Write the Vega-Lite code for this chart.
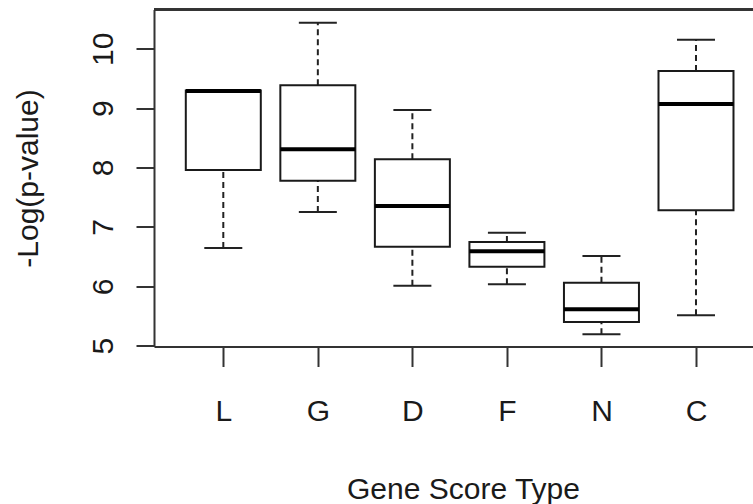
{
  "$schema": "https://vega.github.io/schema/vega-lite/v6.json",
  "autosize": {"type": "none"},
  "padding": {"left": 154, "top": 9.5, "right": 0, "bottom": 157.5},
  "width": 599,
  "height": 337,
  "background": "white",
  "config": {
    "view": {"stroke": null},
    "font": "Liberation Sans",
    "axis": {
      "grid": false,
      "domainColor": "#333333",
      "domainWidth": 2,
      "tickColor": "#333333",
      "tickWidth": 2,
      "labelFont": "Liberation Sans",
      "titleFont": "Liberation Sans",
      "labelFontSize": 30,
      "titleFontSize": 30,
      "labelColor": "#1a1a1a",
      "titleColor": "#1a1a1a",
      "titleFontWeight": "normal"
    }
  },
  "data": {
    "values": [
      {"type": "L", "idx": 1, "lower": 6.645, "q1": 7.958, "median": 9.29, "q3": 9.295, "upper": 9.295},
      {"type": "G", "idx": 2, "lower": 7.251, "q1": 7.778, "median": 8.306, "q3": 9.384, "upper": 10.438},
      {"type": "D", "idx": 3, "lower": 6.01, "q1": 6.667, "median": 7.352, "q3": 8.138, "upper": 8.968},
      {"type": "F", "idx": 4, "lower": 6.034, "q1": 6.33, "median": 6.589, "q3": 6.746, "upper": 6.902},
      {"type": "N", "idx": 5, "lower": 5.192, "q1": 5.399, "median": 5.613, "q3": 6.061, "upper": 6.51},
      {"type": "C", "idx": 6, "lower": 5.512, "q1": 7.279, "median": 9.069, "q3": 9.625, "upper": 10.152}
    ]
  },
  "layer": [
    {
      "mark": {"type": "rule", "color": "#222222", "strokeWidth": 2, "strokeDash": [6, 4]},
      "encoding": {
        "x": {
          "field": "idx",
          "type": "quantitative",
          "scale": {"domain": [0.267, 6.603], "nice": false, "zero": false, "padding": 0},
          "axis": {
            "values": [1, 2, 3, 4, 5, 6],
            "labelExpr": "['','L','G','D','F','N','C'][datum.value]",
            "tickSize": 20,
            "labelPadding": 54,
            "labelBaseline": "alphabetic",
            "labelAlign": "center",
            "labelFlush": false,
            "title": "Gene Score Type",
            "titleX": 309,
            "titleY": 152,
            "titleAlign": "center",
            "titleBaseline": "alphabetic",
            "titleAnchor": null
          }
        },
        "y": {
          "field": "lower",
          "type": "quantitative",
          "scale": {"domain": [4.987, 10.66], "nice": false, "zero": false, "padding": 0},
          "axis": {
            "values": [5, 6, 7, 8, 9, 10],
            "format": "d",
            "tickSize": 18,
            "labelAngle": 270,
            "labelAlign": "center",
            "labelBaseline": "alphabetic",
            "labelPadding": 24,
            "title": "-Log(p-value)",
            "titleAngle": 270,
            "titleX": -117,
            "titleY": 168.5,
            "titleAlign": "center",
            "titleBaseline": "alphabetic",
            "titleAnchor": null
          }
        },
        "y2": {"field": "q1"}
      }
    },
    {
      "mark": {"type": "rule", "color": "#222222", "strokeWidth": 2, "strokeDash": [6, 4]},
      "encoding": {
        "x": {"field": "idx", "type": "quantitative"},
        "y": {"field": "q3", "type": "quantitative"},
        "y2": {"field": "upper"}
      }
    },
    {
      "mark": {"type": "tick", "orient": "horizontal", "size": 38, "thickness": 2, "color": "#222222", "opacity": 1},
      "encoding": {
        "x": {"field": "idx", "type": "quantitative"},
        "y": {"field": "lower", "type": "quantitative"}
      }
    },
    {
      "mark": {"type": "tick", "orient": "horizontal", "size": 38, "thickness": 2, "color": "#222222", "opacity": 1},
      "encoding": {
        "x": {"field": "idx", "type": "quantitative"},
        "y": {"field": "upper", "type": "quantitative"}
      }
    },
    {
      "mark": {"type": "bar", "size": 75, "fill": "white", "stroke": "#1a1a1a", "strokeWidth": 2},
      "encoding": {
        "x": {"field": "idx", "type": "quantitative"},
        "y": {"field": "q1", "type": "quantitative"},
        "y2": {"field": "q3"}
      }
    },
    {
      "mark": {"type": "tick", "orient": "horizontal", "size": 75, "thickness": 4, "color": "#000000", "opacity": 1},
      "encoding": {
        "x": {"field": "idx", "type": "quantitative"},
        "y": {"field": "median", "type": "quantitative"}
      }
    },
    {
      "mark": {"type": "rule", "color": "#333333", "strokeWidth": 2},
      "encoding": {"y": {"datum": 10.66, "type": "quantitative"}}
    }
  ]
}
